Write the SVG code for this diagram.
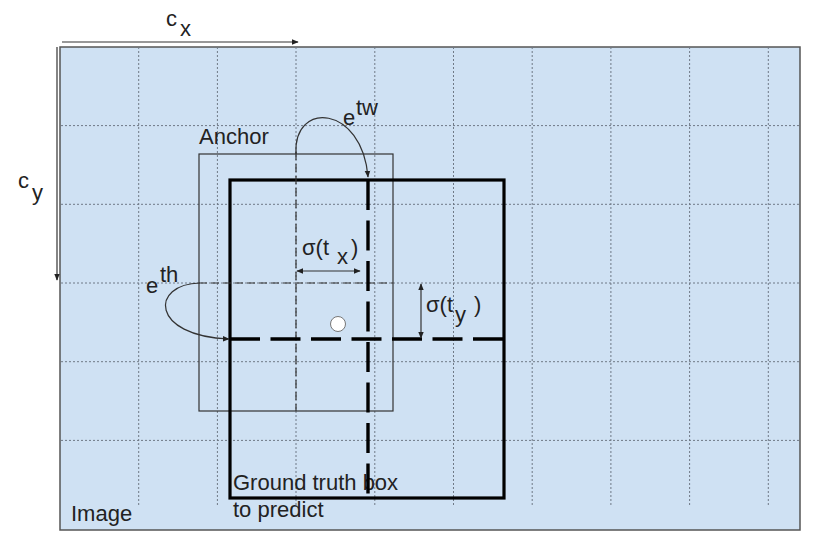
<svg xmlns="http://www.w3.org/2000/svg" width="826" height="544" viewBox="0 0 826 544">
<style>
text{font-family:"Liberation Sans",Arial,sans-serif;fill:#222;font-size:22px}
.grid{stroke:#6f7986;stroke-width:1;stroke-dasharray:2 2;fill:none}
.thin{stroke:#333;stroke-width:1.2;fill:none}
.thindash{stroke:#333;stroke-width:1.2;stroke-dasharray:8 4;fill:none}
.thick{stroke:#000;stroke-width:3.2;fill:none}
.thickdash{stroke:#000;stroke-width:3.4;stroke-dasharray:30 10.5;fill:none}
.arr{stroke:#333;stroke-width:1.2;fill:none}
</style>
<defs>
<marker id="ah" viewBox="0 0 10 10" refX="9" refY="5" markerWidth="7" markerHeight="7" markerUnits="userSpaceOnUse" orient="auto-start-reverse">
<path d="M0,1 L10,5 L0,9 Z" fill="#222"/>
</marker>
</defs>
<g id="image">
<rect x="60" y="47" width="740" height="483" fill="#cfe1f3" stroke="#555" stroke-width="1.5"/>
<text x="71" y="521">Image</text>
</g>
<g id="grid">
<path class="grid" d="M138.7,47V505M217.4,47V505M296,47V505M374.8,47V505M453.5,47V505M532.2,47V505M610.9,47V505M689.6,47V505M768.3,47V505"/>
<path class="grid" d="M61,125.6H799M61,204.3H799M61,283H799M61,361.7H799M61,440.4H799"/>
</g>
<g id="anchor">
<rect class="thin" x="199" y="154" width="194" height="257"/>
<text x="199" y="144">Anchor</text>
</g>
<g id="groundtruth">
<rect class="thick" x="230" y="180" width="274" height="318"/>
<text x="233" y="490">Ground truth box</text>
<text x="233" y="517">to predict</text>
</g>
<g id="center">
<circle cx="338" cy="324" r="7.5" fill="#fff" stroke="#777" stroke-width="1"/>
</g>
<g id="connectors">
<path class="arr" d="M62,42H298" marker-end="url(#ah)"/>
<path class="arr" d="M57,47V280" marker-end="url(#ah)"/>
<path class="thindash" d="M296,152V411"/>
<path class="thindash" d="M199,283H393"/>
<path class="thickdash" d="M368,180V494"/>
<path class="thickdash" d="M230,339H504"/>
<path class="arr" d="M296,154C293,100 362,105 368,177" marker-end="url(#ah)"/>
<path class="arr" d="M200,283C150,284 150,336 229,339" marker-end="url(#ah)"/>
<path class="arr" d="M297,271H360" marker-start="url(#ah)" marker-end="url(#ah)"/>
<path class="arr" d="M421,284V338" marker-start="url(#ah)" marker-end="url(#ah)"/>
</g>
<g id="labels">
<text x="166" y="26">c</text><text x="180" y="36">x</text>
<text x="18" y="188">c</text><text x="32" y="200">y</text>
<text x="343" y="125">e</text><text x="356" y="115">tw</text>
<text x="146" y="293">e</text><text x="160" y="282">th</text>
<text x="302" y="255">σ(t</text><text x="337" y="264">x</text><text x="351" y="255">)</text>
<text x="426" y="312">σ(t</text><text x="455" y="322">y</text><text x="474" y="312">)</text>
</g>
</svg>
